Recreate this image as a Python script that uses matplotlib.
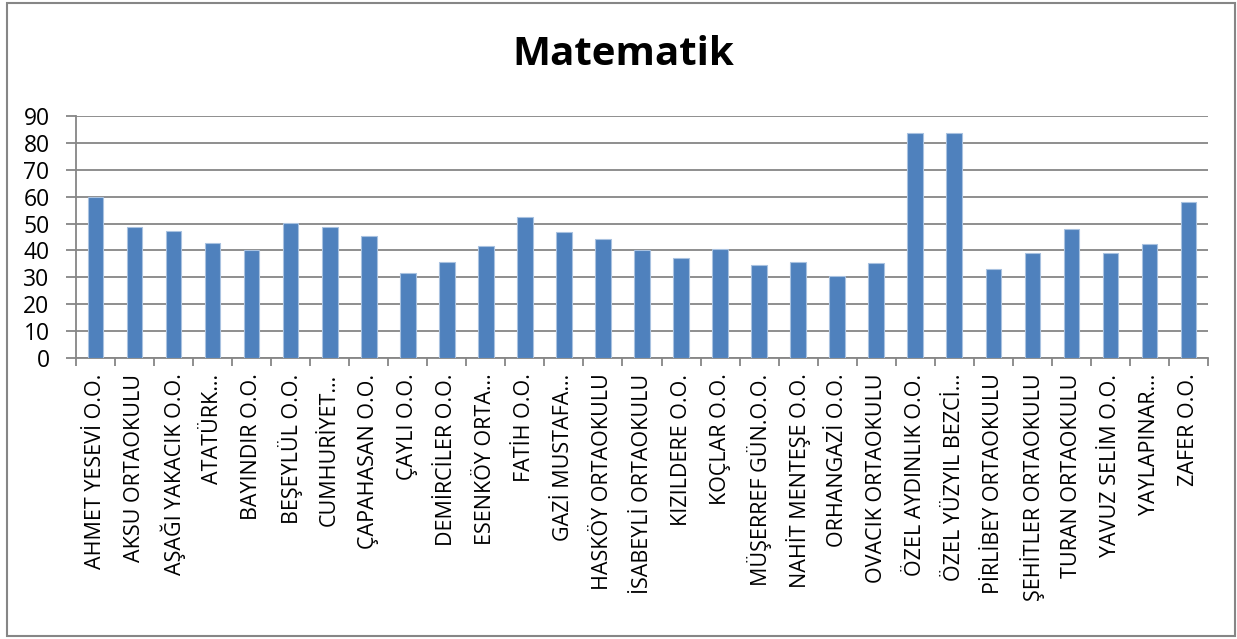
import matplotlib
matplotlib.use("Agg")
import matplotlib.pyplot as plt
import numpy as np

plt.rcParams['font.family'] = ['Open Sans', 'DejaVu Sans']

# school names as they appear on the axis (Excel truncates the long ones)
schools = [
    "AHMET YESEVİ O.O.", "AKSU ORTAOKULU", "AŞAĞI YAKACIK O.O.", "ATATÜRK…",
    "BAYINDIR O.O.", "BEŞEYLÜL O.O.", "CUMHURİYET…", "ÇAPAHASAN O.O.",
    "ÇAYLI O.O.", "DEMİRCİLER O.O.", "ESENKÖY ORTA…", "FATİH O.O.",
    "GAZİ MUSTAFA…", "HASKÖY ORTAOKULU", "İSABEYLİ ORTAOKULU", "KIZILDERE O.O.",
    "KOÇLAR O.O.", "MÜŞERREF GÜN.O.O.", "NAHİT MENTEŞE O.O.", "ORHANGAZİ O.O.",
    "OVACIK ORTAOKULU", "ÖZEL AYDINLIK O.O.", "ÖZEL YÜZYIL BEZCİ…", "PİRLİBEY ORTAOKULU",
    "ŞEHİTLER ORTAOKULU", "TURAN ORTAOKULU", "YAVUZ SELİM O.O.", "YAYLAPINAR…",
    "ZAFER O.O.",
]
scores = [
    60.0, 48.6, 47.2, 42.9, 40.2, 50.1, 48.7, 45.2, 31.8, 35.8,
    41.7, 52.3, 47.0, 44.3, 40.2, 37.2, 40.4, 34.5, 35.7, 30.5,
    35.3, 83.7, 83.7, 33.0, 38.9, 47.8, 38.9, 42.4, 58.1,
]
yticks = list(range(0, 91, 10))

grey = "#868686"

fig = plt.figure(figsize=(12.37, 6.39), dpi=100)
ax = fig.add_axes([0.0614, 0.4393, 0.9152, 0.3796])

x = np.arange(len(schools))
ax.bar(x, scores, width=0.4, color="#4F81BD", edgecolor="#A9C2E0",
       linewidth=0.8, zorder=3)

ax.set_xlim(-0.5, len(schools) - 0.5)
ax.set_ylim(0, 90)
ax.set_yticks(yticks)
ax.yaxis.grid(True, color=grey, linewidth=1.3, zorder=0)

# category labels, no tick at the label, ticks between categories
ax.set_xticks(x)
ax.set_xticklabels(schools, rotation=90, ha="center", va="top", fontsize=15.5)
ax.tick_params(axis="x", which="major", length=0, pad=11)
ax.set_xticks(np.arange(-0.5, len(schools), 1.0), minor=True)
ax.tick_params(axis="x", which="minor", length=6, width=1.3, color=grey,
               direction="out")
ax.tick_params(axis="y", length=7, width=1.3, color=grey, labelsize=16.5, pad=12)

for side in ["top", "right"]:
    ax.spines[side].set_visible(False)
for side in ["left", "bottom"]:
    ax.spines[side].set_color(grey)
    ax.spines[side].set_linewidth(1.3)

fig.text(0.504, 0.914, "Matematik", ha="center", va="center",
         fontsize=29, fontweight="bold")

# chart area border
fig.patches.append(plt.Rectangle((7 / 1237, 3 / 639), 1228 / 1237, 633 / 639,
                                 transform=fig.transFigure, fill=False,
                                 edgecolor=grey, linewidth=1.5))

fig.savefig("out.png", dpi=100)
